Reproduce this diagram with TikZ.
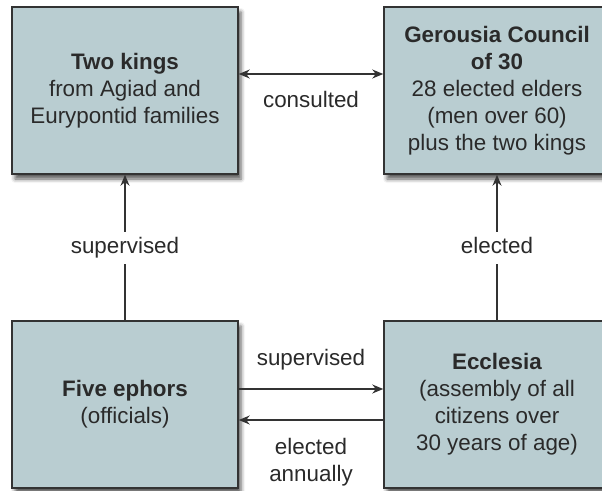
\documentclass[tikz,border=0pt]{standalone}
\usepackage{fontspec}
\setmainfont{Liberation Sans}
\usetikzlibrary{arrows.meta,shadows.blur}
\definecolor{boxfill}{HTML}{B9CDD1}
\definecolor{edge}{HTML}{333333}
\definecolor{ink}{HTML}{2A2A2A}
\tikzset{
  panel/.style={draw=edge, line width=1.5pt, fill=boxfill,
    minimum width=226pt, minimum height=167pt, inner sep=0pt,
    align=center, text=ink, font=\fontsize{22.4}{27}\selectfont,
    blur shadow={shadow xshift=3pt, shadow yshift=-5pt,
      shadow blur radius=4pt, shadow opacity=65}},
  link/.style={draw=edge, line width=1.2pt,
    arrows={-Stealth[length=11pt,width=9pt]}},
  biglink/.style={link, arrows={Stealth[length=11pt,width=9pt]-Stealth[length=11pt,width=9pt]}},
  tag/.style={text=ink, font=\fontsize{22.4}{27}\selectfont, align=center, inner sep=0pt},
  gaptag/.style={tag, fill=white, text height=16pt, text depth=5pt, inner ysep=5.5pt, inner xsep=2pt}
}
\begin{document}
\begin{tikzpicture}[x=1pt,y=-1pt]
\useasboundingbox (0,0) rectangle (602,490);

\node[panel] (kings) at (125,90.5) {\textbf{Two kings}\\from Agiad and\\Eurypontid families};
\node[panel] (gerousia) at (497,90.5) {\textbf{Gerousia Council}\\\textbf{of 30}\\28 elected elders\\(men over 60)\\plus the two kings};
\node[panel] (ephors) at (125,404.5) {\textbf{Five ephors}\\(officials)};
\node[panel] (ecclesia) at (497,404.5) {\textbf{Ecclesia}\\(assembly of all\\citizens over\\30 years of age)};

\draw[biglink] ([yshift=16.5pt]kings.east) -- ([yshift=16.5pt]gerousia.west)
  node[tag, midway, yshift=-25pt] {consulted};

\draw[link] (ephors) -- (kings) node[gaptag, midway] {supervised};
\draw[link] (ecclesia) -- (gerousia) node[gaptag, midway] {elected};

\draw[link] ([yshift=15.5pt]ephors.east) -- ([yshift=15.5pt]ecclesia.west)
  node[tag, midway, yshift=29pt] {supervised};
\draw[link] ([yshift=-15.5pt]ecclesia.west) -- ([yshift=-15.5pt]ephors.east)
  node[tag, midway, yshift=-42pt] {elected\\annually};
\end{tikzpicture}
\end{document}
